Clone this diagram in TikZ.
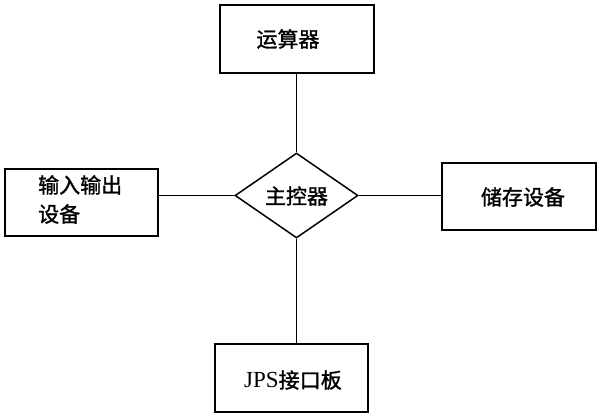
\documentclass[tikz,border=0pt]{standalone}
\usepackage{fontspec}
\setmainfont{Liberation Serif}
\newfontfamily\cjk[FakeBold=1.3]{Noto Sans CJK SC}
\usetikzlibrary{shapes.geometric}
\begin{document}
\begin{tikzpicture}[x=1pt,y=-1pt,
  boxnode/.style={draw,line width=1.5pt,inner sep=0pt,anchor=north west},
  txt/.style={font=\fontsize{21}{29}\selectfont\cjk,inner sep=0pt},
  link/.style={line width=1.5pt}]
\useasboundingbox[fill=white] (0,0) rectangle (600,416);
% boxes
\node[boxnode,minimum width=154pt,minimum height=68pt] (top) at (219,4) {};
\node[boxnode,minimum width=153pt,minimum height=67pt] (left) at (4,168) {};
\node[boxnode,minimum width=154pt,minimum height=67pt] (right) at (441,162) {};
\node[boxnode,minimum width=153pt,minimum height=68pt] (bot) at (214,343) {};
\node[draw,line width=1.5pt,shape=diamond,aspect=1.45,inner sep=0pt,
  minimum width=123pt,minimum height=85pt] (ctrl) at (296.5,195.5) {};
% texts
\node[txt] (ttop) at (288,39) {运算器};
\node[txt,align=left,anchor=west] (tleft) at (38,199.5) {输入输出\\设备};
\node[txt] (tright) at (523,197) {储存设备};
\node[txt] (tctrl) at (296.5,196) {主控器};
\node[txt] (tbot) at (293,380) {{\rmfamily\fontsize{23}{29}\selectfont JPS}接口板};
% connectors
\draw[link] (ctrl.north) -- (ctrl.north |- top.south);
\draw[link] (ctrl.south) -- (ctrl.south |- bot.north);
\draw[link] (ctrl.west) -- (ctrl.west -| left.east);
\draw[link] (ctrl.east) -- (ctrl.east -| right.west);
\end{tikzpicture}
\end{document}
